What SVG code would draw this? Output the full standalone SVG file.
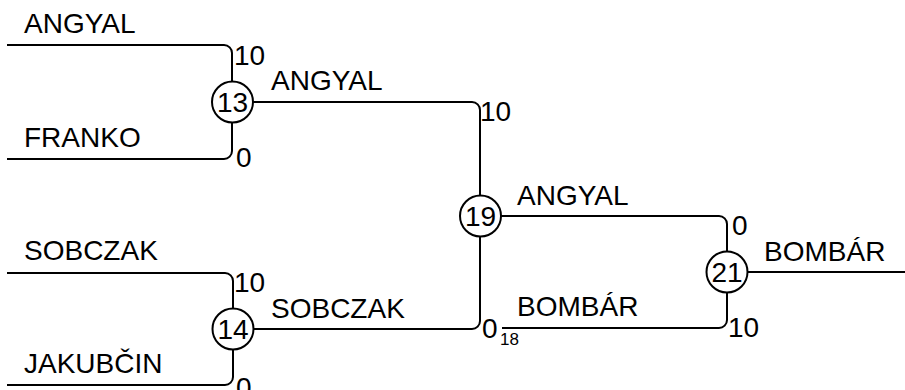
<svg xmlns="http://www.w3.org/2000/svg" width="905" height="390" viewBox="0 0 905 390">
<style>
.c{fill:none;stroke:#000;stroke-width:2}
.n{fill:#fff;stroke:#000;stroke-width:2}
text{font-family:"Liberation Sans",Arial,sans-serif;font-size:28px;fill:#000}
.m{text-anchor:middle}
.s{font-size:17px}
</style>
<rect width="905" height="390" fill="#fff"/>
<g id="connectors">
<path class="c" d="M7,45 H224 A8,8 0 0 1 232,53 V81"/>
<path class="c" d="M7,159 H224 A8,8 0 0 0 232,151 V123"/>
<path class="c" d="M253,102 H472 A8,8 0 0 1 480,110 V195"/>
<path class="c" d="M7,273 H225 A8,8 0 0 1 233,281 V308"/>
<path class="c" d="M7,385 H225 A8,8 0 0 0 233,377 V350"/>
<path class="c" d="M254,329 H472 A8,8 0 0 0 480,321 V237"/>
<path class="c" d="M501,216 H719 A8,8 0 0 1 727,224 V251"/>
<path class="c" d="M502,328 H719 A8,8 0 0 0 727,320 V293"/>
<path class="c" d="M748,272 H905"/>
</g>
<g id="labels">
<text x="24" y="33">ANGYAL</text>
<text x="234" y="65">10</text>
<text x="271" y="90">ANGYAL</text>
<text x="24" y="147">FRANKO</text>
<text x="236" y="167">0</text>
<text x="480" y="121">10</text>
<text x="517" y="205">ANGYAL</text>
<text x="24" y="260">SOBCZAK</text>
<text x="234" y="292">10</text>
<text x="271" y="318">SOBCZAK</text>
<text x="24" y="373">JAKUBČIN</text>
<text x="236" y="397">0</text>
<text x="482" y="338">0</text>
<text class="s" x="500" y="345">18</text>
<text x="517" y="316">BOMBÁR</text>
<text x="732" y="235">0</text>
<text x="764" y="261">BOMBÁR</text>
<text x="728" y="337">10</text>
</g>
<g id="n13"><circle class="n" cx="232.5" cy="102" r="20.5"/><text class="m" x="232.5" y="112">13</text></g>
<g id="n14"><circle class="n" cx="233" cy="329" r="20.5"/><text class="m" x="233" y="339">14</text></g>
<g id="n19"><circle class="n" cx="480.5" cy="216" r="20.5"/><text class="m" x="480.5" y="226">19</text></g>
<g id="n21"><circle class="n" cx="727" cy="272" r="20.5"/><text class="m" x="727" y="282">21</text></g>
</svg>
